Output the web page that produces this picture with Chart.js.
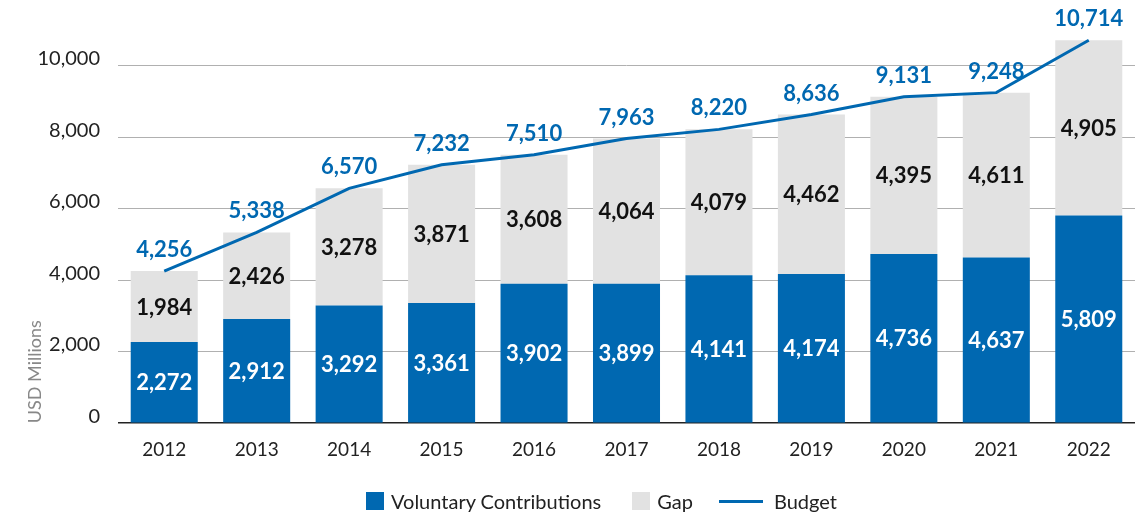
<!DOCTYPE html>
<html>
<head>
<meta charset="utf-8">
<script src="https://cdn.jsdelivr.net/npm/chart.js@4/dist/chart.umd.min.js"></script>
<style>
  html, body { margin: 0; padding: 0; background: #fff; }
  #wrap { position: relative; width: 1138px; height: 517px; }
  #legend {
    position: absolute; top: 489px; left: 366px;
    display: flex; align-items: center;
    font-family: Lato, sans-serif; font-size: 20px; color: #222;
  }
  #legend .box { width: 18px; height: 18px; display: inline-block; }
  #legend .line { width: 44px; height: 3px; display: inline-block; }
</style>
</head>
<body>
<div id="wrap">
  <canvas id="chart" width="1138" height="517"></canvas>
  <div id="legend"></div>
</div>
<script>
// chart data
const years = ['2012', '2013', '2014', '2015', '2016', '2017', '2018', '2019', '2020', '2021', '2022'];
const voluntary = [2272, 2912, 3292, 3361, 3902, 3899, 4141, 4174, 4736, 4637, 5809];
const gap = [1984, 2426, 3278, 3871, 3608, 4064, 4079, 4462, 4395, 4611, 4905];
const budget = [4256, 5338, 6570, 7232, 7510, 7963, 8220, 8636, 9131, 9248, 10714];
const yTicks = [0, 2000, 4000, 6000, 8000, 10000];

const BLUE = '#0068b1';
const GREY = '#e2e2e2';
const FONT = 'Lato, sans-serif';

const fmt = v => v.toLocaleString('en-US');

// draws the value labels on bars and line points
const valueLabels = {
  id: 'valueLabels',
  afterDatasetsDraw(chart) {
    const ctx = chart.ctx;
    ctx.save();
    ctx.textAlign = 'center';
    ctx.textBaseline = 'middle';
    ctx.font = `bold 22px ${FONT}`;
    chart.data.datasets.forEach((ds, i) => {
      const meta = chart.getDatasetMeta(i);
      meta.data.forEach((el, j) => {
        const v = ds.data[j];
        if (ds.type === 'line') {
          const p = el.getProps(['x', 'y'], true);
          ctx.fillStyle = BLUE;
          ctx.fillText(fmt(v), p.x, p.y - 21);
        } else {
          const p = el.getProps(['x', 'y', 'base'], true);
          ctx.fillStyle = ds.labelColor;
          ctx.fillText(fmt(v), p.x, (p.y + p.base) / 2 + 1);
        }
      });
    });
    ctx.restore();
  }
};

new Chart(document.getElementById('chart'), {
  data: {
    labels: years,
    datasets: [
      {
        type: 'line',
        label: 'Budget',
        data: budget,
        borderColor: BLUE,
        borderWidth: 3,
        pointRadius: 0,
        tension: 0,
        stack: 'budget',
        order: 0
      },
      {
        type: 'bar',
        label: 'Voluntary Contributions',
        data: voluntary,
        backgroundColor: BLUE,
        labelColor: '#ffffff',
        stack: 'bars',
        order: 1
      },
      {
        type: 'bar',
        label: 'Gap',
        data: gap,
        backgroundColor: GREY,
        labelColor: '#111111',
        stack: 'bars',
        order: 1
      }
    ]
  },
  options: {
    responsive: false,
    animation: false,
    datasets: { bar: { categoryPercentage: 1, barPercentage: 0.725 } },
    layout: { padding: { top: 20, right: 3, bottom: 41, left: 0 } },
    plugins: {
      legend: { display: false },
      tooltip: { enabled: false }
    },
    scales: {
      x: {
        stacked: true,
        grid: { display: false, drawTicks: false },
        border: { display: false },
        ticks: { color: '#222', padding: 15, font: { family: FONT, size: 19 } }
      },
      y: {
        stacked: true,
        min: 0,
        max: 11000,
        afterBuildTicks: scale => { scale.ticks = yTicks.map(v => ({ value: v })); },
        afterFit: scale => { scale.width = 118; },
        grid: {
          drawTicks: false,
          color: ctx => ctx.tick && ctx.tick.value === 0 ? '#222' : '#b0b0b0',
          lineWidth: ctx => ctx.tick && ctx.tick.value === 0 ? 1.5 : 1
        },
        border: { display: false },
        ticks: {
          color: '#222',
          padding: 18,
          labelOffset: -7,
          font: { family: FONT, size: 20 },
          callback: v => fmt(v)
        },
        title: {
          display: true,
          text: 'USD Millions',
          align: 'start',
          color: '#888',
          padding: { top: 24, bottom: 0 },
          font: { family: FONT, size: 18 }
        }
      }
    }
  },
  plugins: [valueLabels]
});

// legend in html under the chart
const legendItems = [
  { text: 'Voluntary Contributions', color: BLUE, kind: 'box' },
  { text: 'Gap', color: GREY, kind: 'box' },
  { text: 'Budget', color: BLUE, kind: 'line' }
];
const legend = document.getElementById('legend');
legendItems.forEach((it, i) => {
  const mark = document.createElement('span');
  mark.className = it.kind;
  mark.style.background = it.color;
  if (i > 0) mark.style.marginLeft = it.kind === 'line' ? '26px' : '31px';
  const label = document.createElement('span');
  label.textContent = it.text;
  label.style.marginLeft = it.kind === 'line' ? '11px' : '7px';
  legend.appendChild(mark);
  legend.appendChild(label);
});
</script>
</body>
</html>
